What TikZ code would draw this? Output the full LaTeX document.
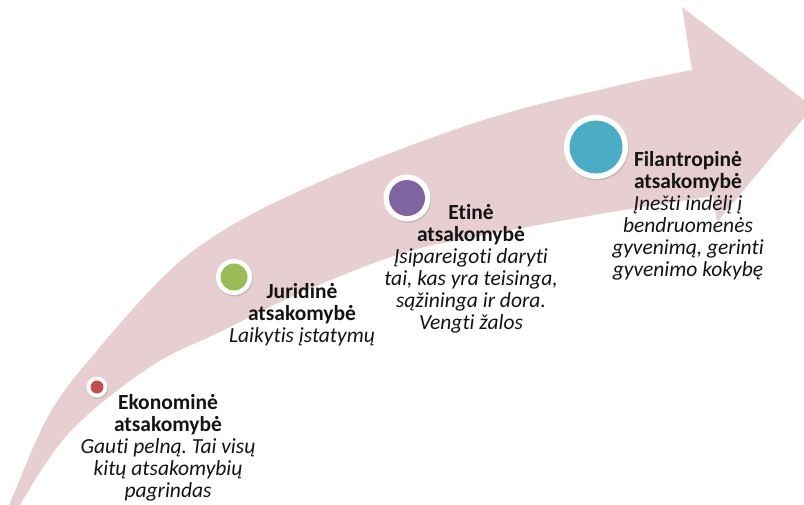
\documentclass[tikz,border=0pt]{standalone}
\usepackage{fontspec}
\setmainfont{Carlito}[RawFeature={-liga;-clig;-calt;-dlig}]
\usetikzlibrary{shadows}
\definecolor{bandpink}{RGB}{231,207,209}
\definecolor{ecored}{RGB}{192,80,77}
\definecolor{jurgreen}{RGB}{155,187,89}
\definecolor{etpurple}{RGB}{128,100,162}
\definecolor{filteal}{RGB}{75,172,198}
\frenchspacing
\begin{document}
\begin{tikzpicture}[x=1pt,y=-1pt,
  ringc/.style={circle, fill=white, inner sep=0pt, drop shadow={shadow xshift=0.8pt, shadow yshift=-1.5pt, opacity=0.3}},
  corec/.style={circle, inner sep=0pt},
  txt/.style={align=center, inner sep=0pt, anchor=north, text=black!92, font=\fontsize{21.5}{22}\selectfont}]
\useasboundingbox (0,0) rectangle (804,504);
\clip (0,0) rectangle (804,504);
% band arrow
\fill[bandpink] plot[smooth, tension=0.6] coordinates {(6,514) (10,503) (50,413) (100,347) (163,277) (213,237) (280,200) (380,157) (500,115) (620,85) (692,70)}
  -- (682,7) -- (813,107) -- (717,222) -- (713,196)
  -- plot[smooth, tension=0.6] coordinates {(713,196) (600,214) (480,236) (400,254) (300,293) (220,332) (150,367) (68,434) (15,514)} -- cycle;
% circles
\node[ringc, minimum size=21pt] (eco) at (97,387) {};
\node[corec, fill=ecored, minimum size=13pt] (ecoc) at (eco) {};
\node[ringc, minimum size=36pt] (jur) at (234,277) {};
\node[corec, fill=jurgreen, minimum size=27pt] (jurc) at (jur) {};
\node[ringc, minimum size=47pt] (eti) at (407,198) {};
\node[corec, fill=etpurple, minimum size=36pt] (etic) at (eti) {};
\node[ringc, minimum size=64pt] (fil) at (596,147) {};
\node[corec, fill=filteal, minimum size=53pt] (filc) at (fil) {};
% texts
\node[txt] (ecot) at (168,394) {\textbf{Ekonominė}\\\textbf{atsakomybė}\\\textit{Gauti pelną. Tai visų}\\\textit{kitų atsakomybių}\\\textit{pagrindas}};
\node[txt] (jurt) at (302,283) {\textbf{Juridinė}\\\textbf{atsakomybė}\\\textit{Laikytis įstatymų}};
\node[txt] (etit) at (471,204) {\textbf{Etinė}\\\textbf{atsakomybė}\\\textit{Įsipareigoti daryti}\\\textit{tai, kas yra teisinga,}\\\textit{sąžininga ir dora.}\\\textit{Vengti žalos}};
\node[txt] (filt) at (688,151) {\textbf{Filantropinė}\\\textbf{atsakomybė}\\\textit{Įnešti indėlį į}\\\textit{bendruomenės}\\\textit{gyvenimą, gerinti}\\\textit{gyvenimo kokybę}};
\end{tikzpicture}
\end{document}
